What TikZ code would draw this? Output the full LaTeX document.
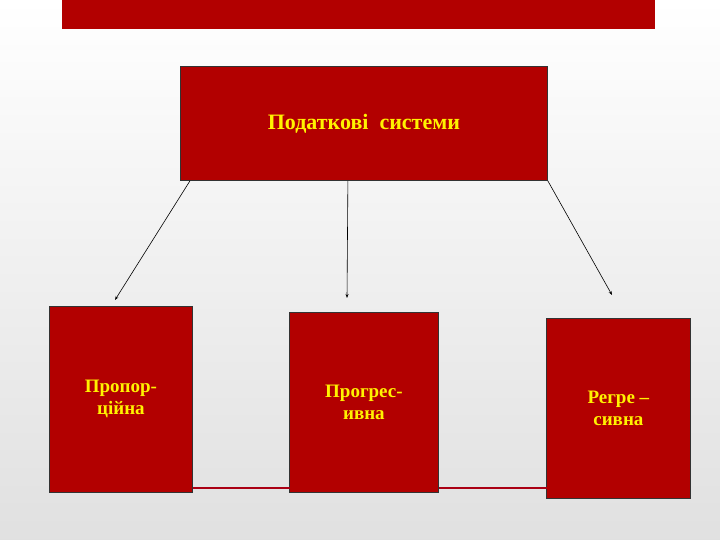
\documentclass[tikz,border=0pt]{standalone}
\usepackage{fontspec}
\usetikzlibrary{arrows.meta}
\setmainfont{Liberation Serif}
\begin{document}
\begin{tikzpicture}[x=1pt,y=-1pt,
  box/.style={draw=black!80,line width=0.8pt,fill=boxred,inner sep=0pt,anchor=north west,text=yellow,font=\bfseries\fontsize{19}{22}\selectfont,align=center},
  arr/.style={-{Stealth[length=4pt,width=3pt]},line width=0.6pt}]
\definecolor{boxred}{RGB}{178,0,0}
\definecolor{linered}{RGB}{170,0,20}
\useasboundingbox (0,0) rectangle (720,540);
\shade[top color=white,bottom color=black!12] (0,0) rectangle (720,540);
\fill[boxred] (62,0) rectangle (655,29);
\node[box,minimum width=367pt,minimum height=114pt,font=\bfseries\fontsize{22}{26}\selectfont] (top) at (180,66) {Податкові\ \ системи};
\node[box,minimum width=143pt,minimum height=186pt] (l) at (49,306) {Пропор-\\ційна};
\node[box,minimum width=149pt,minimum height=180pt] (m) at (289,312) {Прогрес-\\ивна};
\node[box,minimum width=144pt,minimum height=180pt] (r) at (546,318) {Регре --\\сивна};
\coordinate (la) at (115,300);
\coordinate (ma) at (347,298);
\coordinate (ra) at (612,295);
\draw[arr] (top.south west)++(10,0) -- (la);
\draw[arr] (top.south)++(-16,0) -- (ma);
\draw[arr] (top.south east) -- (ra);
\draw[linered,line width=1.5pt] (l.south east)++(0,-5) -- ++(97,0);
\draw[linered,line width=1.5pt] (m.south east)++(0,-5) -- ++(108,0);
\end{tikzpicture}
\end{document}
